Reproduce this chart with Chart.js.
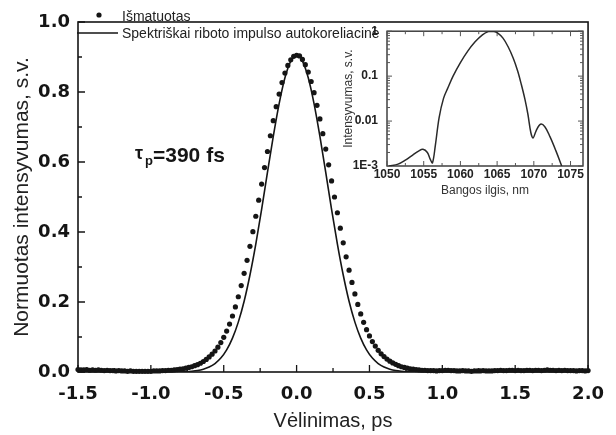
<!DOCTYPE html>
<html><head><meta charset="utf-8">
<script src="https://cdn.jsdelivr.net/npm/chart.js@4.4.0/dist/chart.umd.min.js"></script>
<style>
html,body{margin:0;padding:0;background:#fff;}
#wrap{position:relative;width:616px;height:435px;overflow:hidden;}
#main{position:absolute;left:0;top:0;}
#inset{position:absolute;left:330px;top:15px;}
</style></head><body>
<div id="wrap"><canvas id="main" width="616" height="435"></canvas><canvas id="inset" width="275" height="185"></canvas></div>
<script>
// ---------- data ----------
const seriesLabels = ['Išmatuotas', 'Spektriškai riboto impulso autokoreliacinė'];
const measuredDelay = [
-1.50,-1.48,-1.46,-1.44,-1.42,-1.40,-1.38,-1.36,-1.34,-1.32,-1.30,-1.28,-1.26,-1.24,-1.22,-1.20,-1.18,-1.16,-1.14,-1.12,
-1.10,-1.08,-1.06,-1.04,-1.02,-1.00,-0.98,-0.96,-0.94,-0.92,
-0.90,-0.88,-0.86,-0.84,-0.82,-0.80,-0.78,-0.76,-0.74,-0.72,-0.70,-0.68,-0.66,-0.64,-0.62,-0.60,-0.58,-0.56,-0.54,-0.52,
-0.50,-0.48,-0.46,-0.44,-0.42,-0.40,-0.38,-0.36,-0.34,-0.32,-0.30,-0.28,-0.26,-0.24,-0.22,-0.20,-0.18,-0.16,-0.14,-0.12,
-0.10,-0.08,-0.06,-0.04,-0.02,0.00,0.02,0.04,0.06,0.08,0.10,0.12,0.14,0.16,0.18,0.20,0.22,0.24,0.26,0.28,
0.30,0.32,0.34,0.36,0.38,0.40,0.42,0.44,0.46,0.48,0.50,0.52,0.54,0.56,0.58,0.60,0.62,0.64,0.66,0.68,
0.70,0.72,0.74,0.76,0.78,0.80,0.82,0.84,0.86,0.88,0.90,
0.92,0.94,0.96,0.98,1.00,1.02,1.04,1.06,1.08,1.10,
1.12,1.14,1.16,1.18,1.20,1.22,1.24,1.26,1.28,1.30,
1.32,1.34,1.36,1.38,1.40,1.42,1.44,1.46,1.48,1.50,
1.52,1.54,1.56,1.58,1.60,1.62,1.64,1.66,1.68,1.70,
1.72,1.74,1.76,1.78,1.80,1.82,1.84,1.86,1.88,1.90,
1.92,1.94,1.96,1.98,2.00];
const measuredIntensity = [
.007,.006,.006,.007,.005,.006,.005,.006,.005,.004,.005,.004,.004,.003,.004,.003,.003,.002,.003,.002,
.002,.002,.002,.002,.002,.002,.003,.003,.003,.004,
.004,.005,.005,.006,.007,.008,.009,.011,.013,.015,.018,.021,.025,.030,.036,.043,.051,.060,.071,.084,
.099,.117,.137,.160,.186,.215,.247,.282,.319,.359,.401,.445,.491,.537,.584,.630,.675,.718,.758,.794,
.827,.854,.876,.892,.902,.905,.903,.893,.878,.857,.830,.798,.762,.723,.681,.637,.592,.546,.500,.455,
.411,.369,.329,.291,.256,.223,.193,.166,.142,.121,.103,.087,.074,.062,.052,.044,.037,.031,.026,.022,
.018,.015,.013,.011,.009,.008,.007,.006,.005,.005,.004,
.004,.004,.003,.004,.004,.005,.005,.004,.004,.003,
.003,.004,.003,.003,.002,.003,.003,.003,.004,.003,
.003,.003,.004,.004,.005,.004,.004,.005,.005,.004,
.005,.004,.004,.005,.005,.004,.005,.005,.004,.005,
.006,.005,.005,.004,.005,.004,.005,.004,.004,.004,
.003,.004,.004,.003,.004];
const limitedDelay = [-1.5,-1.2,-1.0,-0.9,-0.80,-0.76,-0.72,-0.68,-0.64,-0.60,-0.56,-0.52,-0.48,-0.44,-0.40,-0.36,-0.32,-0.28,-0.24,-0.20,-0.16,-0.12,-0.08,-0.04,0,
0.04,0.08,0.12,0.16,0.20,0.24,0.28,0.32,0.36,0.40,0.44,0.48,0.52,0.56,0.60,0.64,0.68,0.72,0.76,0.80,0.9,1.0,1.2,1.5,2.0];
const limitedIntensity = [0,0,0,0.0001,0.0005,0.0011,0.0023,0.0043,0.0080,0.0141,0.0241,0.0397,0.0631,0.0967,0.1425,0.2022,0.2771,0.3655,0.4648,0.5702,0.6731,0.7660,0.8405,0.8884,0.905,
0.8884,0.8405,0.7660,0.6731,0.5702,0.4648,0.3655,0.2771,0.2022,0.1425,0.0967,0.0631,0.0397,0.0241,0.0141,0.0080,0.0043,0.0023,0.0011,0.0005,0.0001,0,0,0,0];
const xTickLabels = ['-1.5','-1.0','-0.5','0.0','0.5','1.0','1.5','2.0'];
const yTickLabels = ['0.0','0.2','0.4','0.6','0.8','1.0'];
const annotationText = ['τ', 'p', '=390 fs'];

// inset spectrum
const spectrumWavelength = [1050.3,1051.5,1052.5,1053.5,1054.3,1054.9,1055.5,1055.9,1056.2,1056.6,1057.1,1057.7,1058.3,1059.0,1060.0,1061.0,1062.0,1063.0,1063.8,
1064.4,1065.0,1065.8,1066.5,1067.2,1067.8,1068.3,1068.8,1069.2,1069.6,1069.9,1070.3,1070.9,1071.5,1072.2,1073.0,1073.8];
const spectrumIntensity = [0.00100,0.00110,0.00135,0.00175,0.00215,0.00235,0.00200,0.00140,0.00118,0.0030,0.012,0.032,0.055,0.10,0.20,0.36,0.58,0.83,0.98,
1.00,0.93,0.70,0.45,0.25,0.13,0.065,0.030,0.014,0.0055,0.0042,0.0060,0.0085,0.0075,0.0045,0.0022,0.0010];
const insetXTickValues = [1050,1055,1060,1065,1070,1075];
const insetXTickLabels = ['1050','1055','1060','1065','1070','1075'];
const insetYTickValues = [0.001,0.01,0.1,1];
const insetYTickLabels = ['1E-3','0.01','0.1','1'];

// ---------- styling ----------
const SANS = "'Liberation Sans', Arial, sans-serif";
const TICKFONT = "'DejaVu Sans', sans-serif";
const INK = '#151515';

const mainDecor = {
  id: 'mainDecor',
  beforeDatasetsDraw(chart) {
    const {ctx, chartArea: a, scales: {x, y}} = chart;
    ctx.save();
    ctx.strokeStyle = INK;
    ctx.lineWidth = 1.6;
    ctx.strokeRect(a.left, a.top, a.right - a.left, a.bottom - a.top);
    ctx.lineWidth = 1.3;
    ctx.beginPath();
    const xt = x.ticks.map(t => t.value);
    for (let i = 0; i < xt.length; i++) {
      const p = x.getPixelForValue(xt[i]);
      ctx.moveTo(p, a.bottom); ctx.lineTo(p, a.bottom - 7);
      if (i < xt.length - 1) {
        const q = x.getPixelForValue((xt[i] + xt[i + 1]) / 2);
        ctx.moveTo(q, a.bottom); ctx.lineTo(q, a.bottom - 4);
      }
    }
    const yt = y.ticks.map(t => t.value);
    for (let i = 0; i < yt.length; i++) {
      const p = y.getPixelForValue(yt[i]);
      ctx.moveTo(a.left, p); ctx.lineTo(a.left + 7, p);
      if (i < yt.length - 1) {
        const q = y.getPixelForValue((yt[i] + yt[i + 1]) / 2);
        ctx.moveTo(a.left, q); ctx.lineTo(a.left + 4, q);
      }
    }
    ctx.stroke();
    ctx.restore();
  },
  afterDraw(chart) {
    const {ctx} = chart;
    const ds = chart.data.datasets;
    ctx.save();
    // legend
    ctx.fillStyle = INK;
    ctx.beginPath(); ctx.arc(99, 15, 2.6, 0, Math.PI * 2); ctx.fill();
    ctx.strokeStyle = INK; ctx.lineWidth = 1.5;
    ctx.beginPath(); ctx.moveTo(77, 33); ctx.lineTo(118, 33); ctx.stroke();
    ctx.font = `14px ${SANS}`;
    ctx.fillStyle = '#222';
    ctx.textBaseline = 'alphabetic';
    ctx.textAlign = 'left';
    ctx.fillText(ds[0].label, 122, 21);
    ctx.fillText(ds[1].label, 122, 38);
    // tau label
    ctx.fillStyle = INK;
    ctx.font = `bold 18px ${SANS}`;
    ctx.fillText(annotationText[0], 135, 159);
    ctx.font = `bold 13px ${SANS}`;
    ctx.fillText(annotationText[1], 145, 165);
    ctx.font = `bold 21px ${SANS}`;
    ctx.fillText(annotationText[2], 153, 162);
    ctx.restore();
  }
};

new Chart(document.getElementById('main'), {
  type: 'line',
  data: {
    datasets: [
      {
        label: seriesLabels[0],
        data: measuredDelay.map((t, i) => ({x: t, y: measuredIntensity[i]})),
        showLine: false,
        pointRadius: 2.6,
        pointBackgroundColor: INK,
        pointBorderWidth: 0,
        borderColor: INK,
        clip: false,
        order: 1
      },
      {
        label: seriesLabels[1],
        data: limitedDelay.map((t, i) => ({x: t, y: limitedIntensity[i]})),
        borderColor: INK,
        borderWidth: 1.6,
        pointRadius: 0,
        cubicInterpolationMode: 'monotone',
        fill: false,
        order: 0
      }
    ]
  },
  options: {
    responsive: false,
    animation: false,
    devicePixelRatio: 1,
    layout: {padding: {top: 22, right: 25, left: 0, bottom: 0}},
    plugins: {legend: {display: false}, tooltip: {enabled: false}},
    scales: {
      x: {
        type: 'linear', min: -1.5, max: 2.0,
        grid: {display: false, drawTicks: false}, border: {display: false},
        ticks: {stepSize: 0.5, color: INK, font: {family: TICKFONT, size: 18, weight: 'bold'}, padding: 12,
          maxRotation: 0, autoSkip: false,
          callback: (v, i) => xTickLabels[i]},
        title: {display: true, text: 'Vėlinimas, ps', color: '#222', font: {family: SANS, size: 20}, padding: {top: 0, bottom: 2}},
        afterFit: s => { s.height = 63; }
      },
      y: {
        type: 'linear', min: 0, max: 1.0,
        grid: {display: false, drawTicks: false}, border: {display: false},
        ticks: {stepSize: 0.2, color: INK, font: {family: TICKFONT, size: 18, weight: 'bold'}, padding: 8,
          callback: (v, i) => yTickLabels[i]},
        title: {display: true, text: 'Normuotas intensyvumas, s.v.', color: '#222', font: {family: SANS, size: 21}, padding: {top: 10, bottom: 0}},
        afterFit: s => { s.width = 78; }
      }
    }
  },
  plugins: [mainDecor]
});

const insetDecor = {
  id: 'insetDecor',
  beforeDraw(chart) {
    const {ctx, chartArea: a} = chart;
    ctx.save();
    ctx.fillStyle = '#fff';
    ctx.fillRect(a.left, a.top, a.right - a.left, a.bottom - a.top);
    ctx.restore();
  },
  beforeDatasetsDraw(chart) {
    const {ctx, chartArea: a, scales: {x, y}} = chart;
    ctx.save();
    ctx.strokeStyle = '#333';
    ctx.lineWidth = 1.4;
    ctx.strokeRect(a.left, a.top, a.right - a.left, a.bottom - a.top);
    ctx.lineWidth = 1;
    ctx.strokeStyle = '#555';
    ctx.beginPath();
    for (let i = 0; i < insetXTickValues.length; i++) {
      const v = insetXTickValues[i];
      const p = x.getPixelForValue(v);
      ctx.moveTo(p, a.bottom); ctx.lineTo(p, a.bottom - 5);
      ctx.moveTo(p, a.top); ctx.lineTo(p, a.top + 5);
      const q = x.getPixelForValue(v + 2.5);
      if (q < a.right) {
        ctx.moveTo(q, a.bottom); ctx.lineTo(q, a.bottom - 3);
        ctx.moveTo(q, a.top); ctx.lineTo(q, a.top + 3);
      }
    }
    for (let i = 0; i < insetYTickValues.length; i++) {
      const v = insetYTickValues[i];
      const p = y.getPixelForValue(v);
      ctx.moveTo(a.left, p); ctx.lineTo(a.left + 5, p);
      ctx.moveTo(a.right, p); ctx.lineTo(a.right - 5, p);
      if (i < insetYTickValues.length - 1) {
        for (let k = 2; k <= 9; k++) {
          const q = y.getPixelForValue(v * k);
          ctx.moveTo(a.left, q); ctx.lineTo(a.left + 3, q);
          ctx.moveTo(a.right, q); ctx.lineTo(a.right - 3, q);
        }
      }
    }
    ctx.stroke();
    ctx.restore();
  }
};

new Chart(document.getElementById('inset'), {
  type: 'line',
  data: {
    datasets: [{
      label: 'Spektras',
      data: spectrumWavelength.map((w, i) => ({x: w, y: spectrumIntensity[i]})),
      borderColor: '#2a2a2a',
      borderWidth: 1.5,
      pointRadius: 0,
      tension: 0.35,
      fill: false
    }]
  },
  options: {
    responsive: false,
    animation: false,
    devicePixelRatio: 1,
    layout: {padding: {top: 12, right: 22, left: 0, bottom: 0}},
    plugins: {legend: {display: false}, tooltip: {enabled: false}},
    scales: {
      x: {
        type: 'linear', min: 1050, max: 1076.7,
        grid: {display: false, drawTicks: false}, border: {display: false},
        afterBuildTicks: s => { s.ticks = insetXTickValues.map(v => ({value: v})); },
        ticks: {color: '#222', font: {family: SANS, size: 12, weight: 'bold'}, padding: 1, maxRotation: 0, autoSkip: false,
          callback: (v, i) => insetXTickLabels[i]},
        title: {display: true, text: 'Bangos ilgis, nm', color: '#333', font: {family: SANS, size: 12}, padding: {top: 0, bottom: 2}},
        afterFit: s => { s.height = 34; }
      },
      y: {
        type: 'logarithmic', min: 0.001, max: 1,
        grid: {display: false, drawTicks: false}, border: {display: false},
        afterBuildTicks: s => { s.ticks = insetYTickValues.map(v => ({value: v})); },
        ticks: {color: '#222', font: {family: SANS, size: 12, weight: 'bold'}, padding: 9, autoSkip: false,
          callback: (v, i) => insetYTickLabels[i]},
        title: {display: true, text: 'Intensyvumas, s.v.', color: '#333', font: {family: SANS, size: 12}, padding: {top: 11, bottom: 0}},
        afterFit: s => { s.width = 57; }
      }
    }
  },
  plugins: [insetDecor]
});
</script>
</body></html>
